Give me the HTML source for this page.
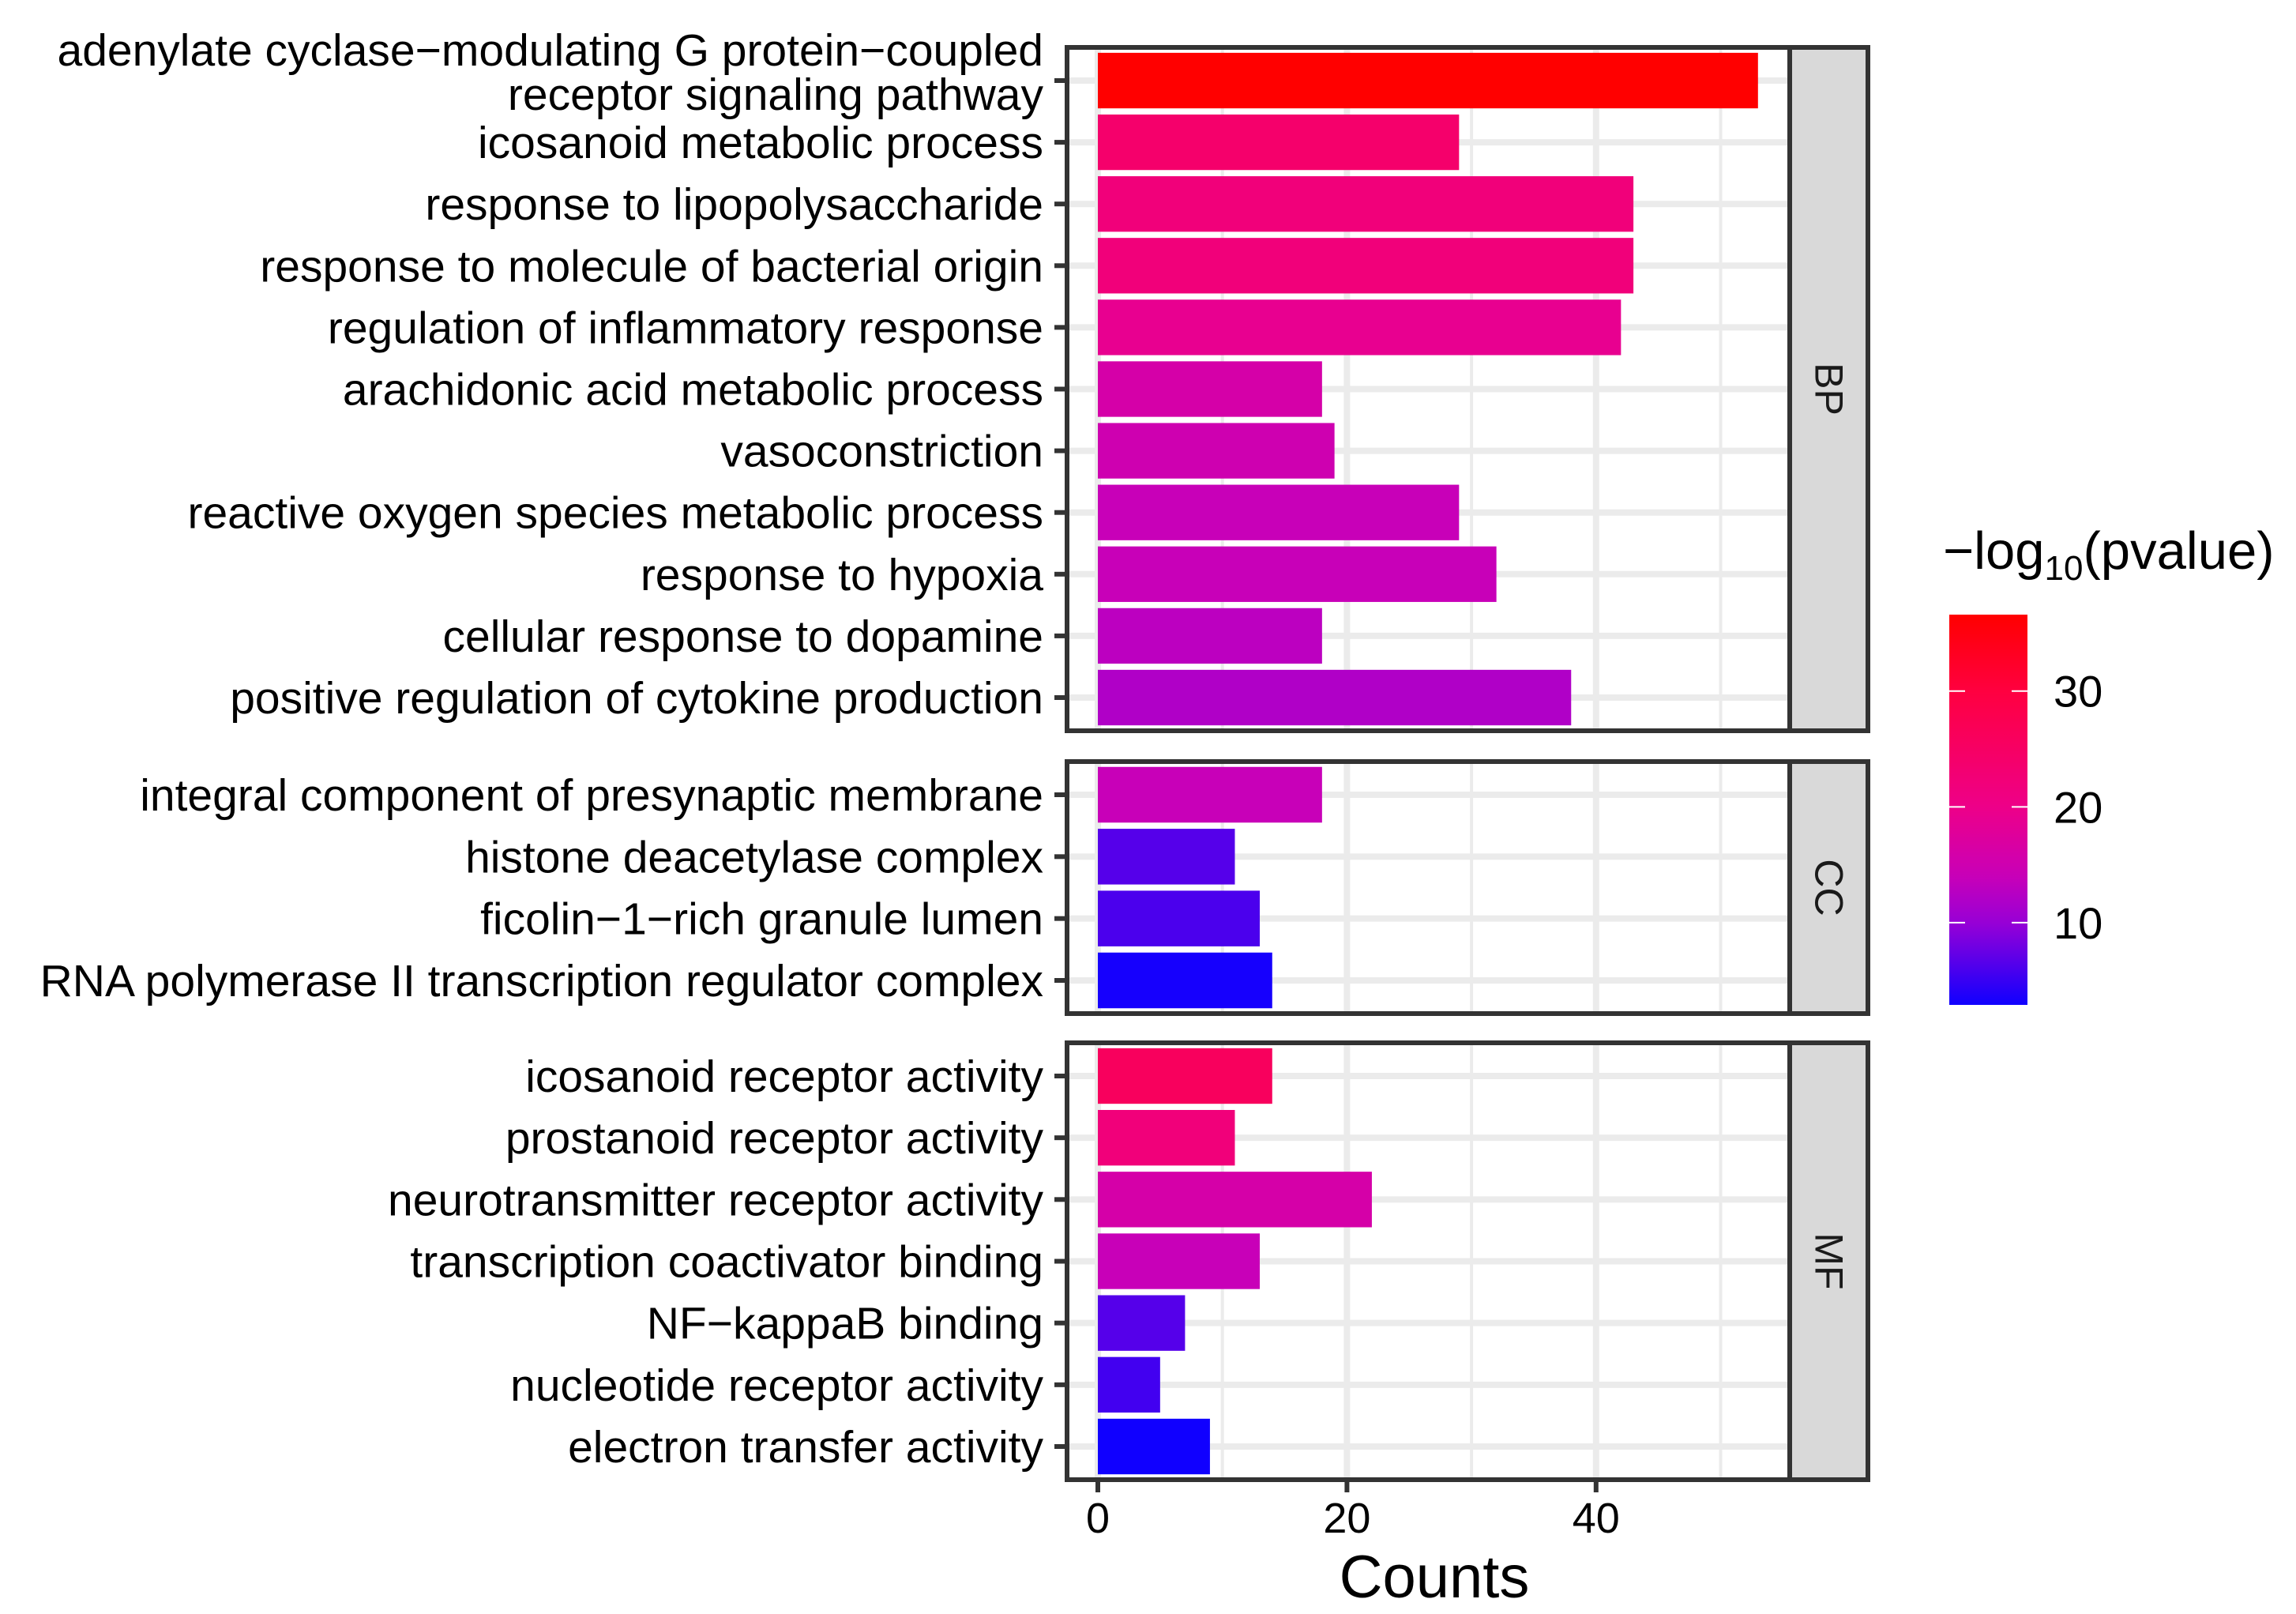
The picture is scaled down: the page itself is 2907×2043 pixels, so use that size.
<!DOCTYPE html>
<html><head><meta charset="utf-8">
<style>
html,body{margin:0;padding:0;background:#fff;}
svg{display:block;font-family:"Liberation Sans",Arial,sans-serif;}
</style></head>
<body>
<svg id="chart" width="2907" height="2043" viewBox="0 0 2907 2043" xmlns="http://www.w3.org/2000/svg"></svg>
<script>
const bpTerms = ["adenylate cyclase\u2212modulating G protein\u2212coupled|receptor signaling pathway","icosanoid metabolic process","response to lipopolysaccharide","response to molecule of bacterial origin","regulation of inflammatory response","arachidonic acid metabolic process","vasoconstriction","reactive oxygen species metabolic process","response to hypoxia","cellular response to dopamine","positive regulation of cytokine production"];
const bpCounts = [53,29,43,43,42,18,19,29,32,18,38];
const bpLogP = [36.6,24,22,22,19,16,15,14,14,13,12];
const ccTerms = ["integral component of presynaptic membrane","histone deacetylase complex","ficolin\u22121\u2212rich granule lumen","RNA polymerase II transcription regulator complex"];
const ccCounts = [18,11,13,14];
const ccLogP = [14,6.5,6,3.2];
const mfTerms = ["icosanoid receptor activity","prostanoid receptor activity","neurotransmitter receptor activity","transcription coactivator binding","NF\u2212kappaB binding","nucleotide receptor activity","electron transfer activity"];
const mfCounts = [14,11,22,13,7,5,9];
const mfLogP = [26,22,16,14,6.5,5.5,2.9];
const xTicks = [0,20,40];
const legendTicks = [10,20,30];
const colorMin = 2.9, colorMax = 36.6;

const NS = "http://www.w3.org/2000/svg";
const svg = document.getElementById("chart");
function mk(tag, attrs, parent){const e=document.createElementNS(NS,tag);for(const k in attrs)e.setAttribute(k,attrs[k]);(parent||svg).appendChild(e);return e;}

const rampV=[2.9,10,14,20,30,36.6];
const rampC=[[16,0,255],[152,0,214],[200,0,184],[238,0,136],[255,0,64],[255,0,0]];
function colorOf(v){
 v=Math.max(rampV[0],Math.min(rampV[rampV.length-1],v));
 let i=0;while(i<rampV.length-2&&v>rampV[i+1])i++;
 const t=(v-rampV[i])/(rampV[i+1]-rampV[i]);
 const c=rampC[i].map((a,k)=>Math.round(a+(rampC[i+1][k]-a)*t));
 return "rgb("+c.join(",")+")";
}

const panelL=1351, stripL=2266, stripR=2365;
const x0=1390, pxPerUnit=15.77;
function xScale(v){return x0+v*pxPerUnit;}
const panels=[
 {name:"BP",terms:bpTerms,counts:bpCounts,logp:bpLogP,top:60,bottom:925},
 {name:"CC",terms:ccTerms,counts:ccCounts,logp:ccLogP,top:964,bottom:1283},
 {name:"MF",terms:mfTerms,counts:mfCounts,logp:mfLogP,top:1320,bottom:1873}
];
const gapPx=42;

panels.forEach(p=>{
 const g=mk("g",{});
 
 
 const H=p.bottom-p.top, n=p.terms.length, band=(H-2*gapPx)/(n-1);
 const yS=i=>p.top+gapPx+i*band;
 mk("rect",{x:panelL,y:p.top,width:stripL-panelL,height:H,fill:"#fff"},g);
 [10,30,50].forEach(v=>{const l=mk("line",{x1:xScale(v),x2:xScale(v),y1:p.top,y2:p.bottom,stroke:"#EBEBEB","stroke-width":4},g);
  });
 xTicks.forEach(v=>{const l=mk("line",{x1:xScale(v),x2:xScale(v),y1:p.top,y2:p.bottom,stroke:"#EBEBEB","stroke-width":8},g);
  });
 p.terms.forEach((t,i)=>{const l=mk("line",{x1:panelL,x2:stripL,y1:yS(i),y2:yS(i),stroke:"#EBEBEB","stroke-width":8},g);
  });
 const bh=band*0.9;
 p.terms.forEach((t,i)=>{
  const r=mk("rect",{x:xScale(0),y:yS(i)-bh/2,width:xScale(p.counts[i])-xScale(0),height:bh,fill:colorOf(p.logp[i])},g);
  
  
  const tk=mk("line",{x1:panelL-16,x2:panelL,y1:yS(i),y2:yS(i),stroke:"#333","stroke-width":6},g);
  
  const lines=t.split("|");
  const tx=mk("text",{x:1321,y:yS(i)+20-(lines.length-1)*39,"text-anchor":"end","font-size":57,fill:"#000"},g);
  
  lines.forEach((s,k)=>{const sp=mk("tspan",{x:1321,dy:k===0?0:56},tx);sp.textContent=s;});
 });
 mk("rect",{x:panelL,y:p.top,width:stripL-panelL,height:H,fill:"none",stroke:"#333","stroke-width":6},g);
 const st=mk("rect",{x:stripL,y:p.top,width:stripR-stripL,height:H,fill:"#D9D9D9",stroke:"#333","stroke-width":6},g);
 
 const cy=(p.top+p.bottom)/2, cx=(stripL+stripR)/2;
 const sl=mk("text",{x:cx,y:cy,"font-size":50,"text-anchor":"middle","dominant-baseline":"central",transform:"rotate(90 "+cx+" "+cy+")",fill:"#1A1A1A"},g);
 sl.textContent=p.name;
});

const lastB=panels[2].bottom;
xTicks.forEach(v=>{
 const l=mk("line",{x1:xScale(v),x2:xScale(v),y1:lastB,y2:lastB+16,stroke:"#333","stroke-width":6});
 
 const t=mk("text",{x:xScale(v),y:1940,"text-anchor":"middle","font-size":54,fill:"#000"});
 t.textContent=v;
});
const xt=mk("text",{x:1816,y:2022,"text-anchor":"middle","font-size":76,fill:"#000"});
xt.textContent="Counts";

const lg=mk("g",{});

const lt=mk("text",{x:2460,y:720,"font-size":67,fill:"#000"},lg);

const t1=mk("tspan",{},lt);t1.textContent="\u2212log";
const t2=mk("tspan",{"font-size":44,dy:14},lt);t2.textContent="10";
const t3=mk("tspan",{dy:-14},lt);t3.textContent="(pvalue)";
const cbTop=778, cbBot=1272, cbL=2468, cbR=2567;
const defs=mk("defs",{});
const grad=mk("linearGradient",{id:"cg",x1:0,y1:1,x2:0,y2:0},defs);
for(let k=0;k<=40;k++){mk("stop",{offset:k/40,"stop-color":colorOf(colorMin+(colorMax-colorMin)*k/40)},grad);}
const cb=mk("rect",{x:cbL,y:cbTop,width:cbR-cbL,height:cbBot-cbTop,fill:"url(#cg)"},lg);

const cbY=v=>cbBot-(v-colorMin)/(colorMax-colorMin)*(cbBot-cbTop);
legendTicks.forEach(v=>{
 mk("line",{x1:cbL,x2:cbL+20,y1:cbY(v),y2:cbY(v),stroke:"#fff","stroke-width":2},lg);
 mk("line",{x1:cbR-20,x2:cbR,y1:cbY(v),y2:cbY(v),stroke:"#fff","stroke-width":2},lg);
 const t=mk("text",{x:2600,y:cbY(v)+20,"font-size":56,fill:"#000"},lg);
 t.textContent=v;
});
</script>
</body></html>
